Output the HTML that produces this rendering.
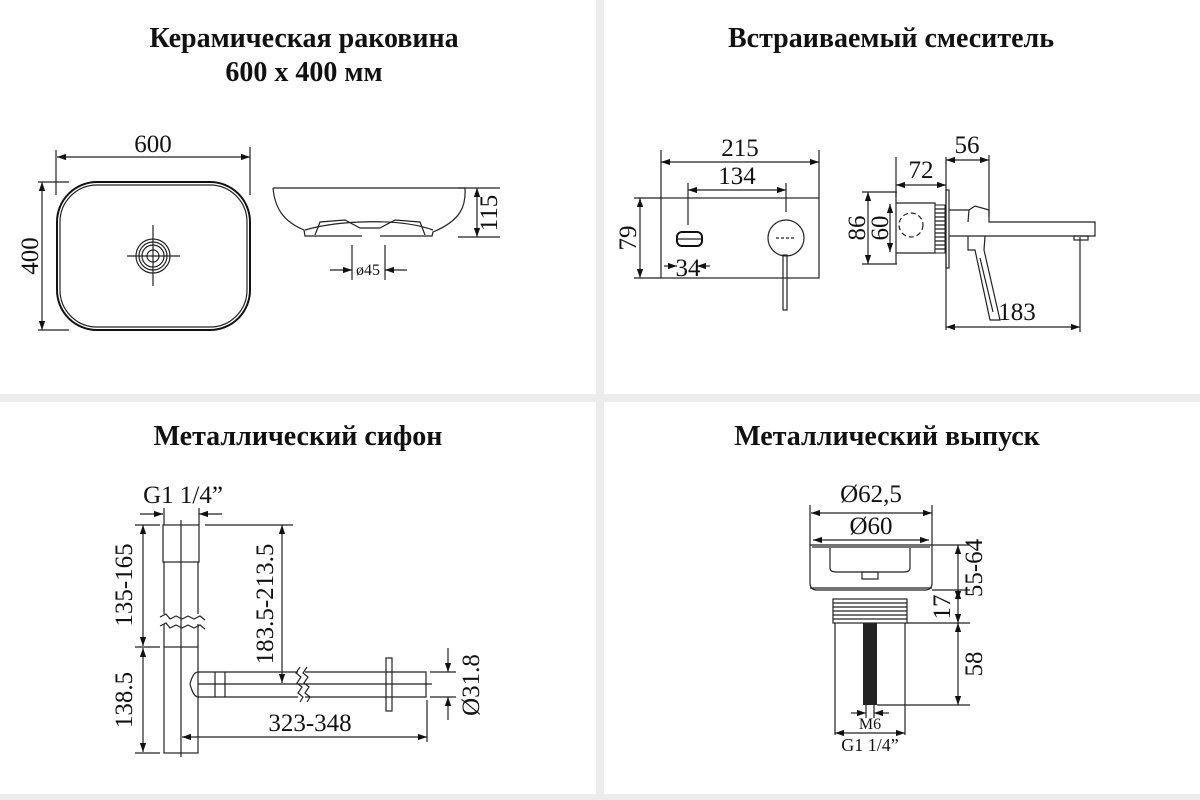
<!DOCTYPE html>
<html><head><meta charset="utf-8"><style>
html,body{margin:0;padding:0;background:#fff}
svg{display:block}
.t{font-family:"Liberation Serif","Noto Serif CJK SC",serif;font-weight:bold;font-size:28px;fill:#111;text-anchor:middle}
.d{font-family:"Liberation Serif",serif;font-size:25px;fill:#111;text-anchor:middle}
.s{font-family:"Liberation Serif",serif;font-size:16px;fill:#111;text-anchor:middle}
.l{stroke:#222;stroke-width:1.2;fill:none}
.k{stroke:#111;stroke-width:2;fill:none}
</style></head><body>
<svg width="1200" height="800" viewBox="0 0 1200 800" xmlns="http://www.w3.org/2000/svg">
<defs>
<marker id="a" viewBox="0 0 10 10" refX="10" refY="5" markerWidth="9" markerHeight="9" orient="auto-start-reverse" markerUnits="userSpaceOnUse"><path d="M0,1.5 L10,5 L0,8.5z" fill="#111"/></marker>
</defs>
<rect width="1200" height="800" fill="#fff"/>
<rect x="596" y="0" width="8" height="800" fill="#ececec"/>
<rect x="0" y="394" width="1200" height="8" fill="#ececec"/>
<rect x="0" y="794" width="1200" height="6" fill="#ececec"/>

<text class="t" x="304" y="47">Керамическая раковина</text>
<text class="t" x="304" y="81">600 x 400 мм</text>
<text class="t" x="891" y="47">Встраиваемый смеситель</text>
<text class="t" x="298" y="445">Металлический сифон</text>
<text class="t" x="887" y="445">Металлический выпуск</text>

<!-- SINK top view -->
<rect x="57" y="182" width="193" height="148" rx="40" class="k"/>
<rect x="60" y="185" width="187" height="142" rx="37" class="l"/>
<line x1="56" y1="150" x2="56" y2="195" class="l"/>
<line x1="250" y1="147" x2="250" y2="195" class="l"/>
<line x1="57" y1="157" x2="250" y2="157" class="l" marker-start="url(#a)" marker-end="url(#a)"/>
<text class="d" x="153" y="152">600</text>
<line x1="38" y1="182" x2="69" y2="182" class="l"/>
<line x1="38" y1="330" x2="69" y2="330" class="l"/>
<line x1="42" y1="182" x2="42" y2="330" class="l" marker-start="url(#a)" marker-end="url(#a)"/>
<text class="d" transform="translate(38,256) rotate(-90)">400</text>
<circle cx="153" cy="256" r="17" class="l"/><circle cx="153" cy="256" r="14" class="l"/>
<circle cx="153" cy="256" r="11" class="l"/><circle cx="153" cy="256" r="6" class="l"/>
<line x1="127" y1="256" x2="180" y2="256" class="l"/><line x1="153" y1="225" x2="153" y2="286" class="l"/>
<path d="M273,188 L465,188 C466,205 462,220 433,232 L432,236 L380,236 M273,188 C275,210 285,222 304,230 L305,236 L362,236" class="l"/>
<path d="M305,230 C340,220 400,218 433,230" class="l"/>
<path d="M315,235 L320,222 L345,220 L360,228 L380,228 L395,220 L420,222 L425,235" class="l"/>
<line x1="458" y1="188" x2="500" y2="188" class="l"/>
<line x1="458" y1="237" x2="500" y2="237" class="l"/>
<line x1="477" y1="188" x2="477" y2="237" class="l" marker-start="url(#a)" marker-end="url(#a)"/>
<text class="d" transform="translate(497,213) rotate(-90)">115</text>
<line x1="352" y1="245" x2="352" y2="280" class="l"/><line x1="385" y1="245" x2="385" y2="280" class="l"/>
<line x1="330" y1="270" x2="352" y2="270" class="l" marker-end="url(#a)"/>
<line x1="407" y1="270" x2="385" y2="270" class="l" marker-end="url(#a)"/>
<text class="s" x="368" y="275">ø45</text>

<!-- FAUCET front -->
<rect x="661" y="198" width="158" height="80" class="l" stroke-width="1.5"/>
<line x1="661" y1="150" x2="661" y2="198" class="l"/><line x1="819" y1="150" x2="819" y2="198" class="l"/>
<line x1="661" y1="162" x2="819" y2="162" class="l" marker-start="url(#a)" marker-end="url(#a)"/>
<text class="d" x="740" y="156">215</text>
<line x1="688" y1="183" x2="688" y2="225" class="l"/><line x1="786" y1="183" x2="786" y2="212" class="l"/>
<line x1="688" y1="190" x2="786" y2="190" class="l" marker-start="url(#a)" marker-end="url(#a)"/>
<text class="d" x="737" y="184">134</text>
<line x1="634" y1="198" x2="661" y2="198" class="l"/><line x1="634" y1="278" x2="661" y2="278" class="l"/>
<line x1="640" y1="198" x2="640" y2="278" class="l" marker-start="url(#a)" marker-end="url(#a)"/>
<text class="d" transform="translate(636,238) rotate(-90)">79</text>
<rect x="677" y="232" width="25" height="14" rx="5" class="k"/>
<line x1="677" y1="239" x2="702" y2="239" class="l"/>
<line x1="664" y1="266" x2="677" y2="266" class="l" marker-end="url(#a)"/>
<line x1="710" y1="266" x2="697" y2="266" class="l" marker-end="url(#a)"/>
<text class="d" x="688" y="276">34</text>
<circle cx="786" cy="238" r="18" class="l" stroke-width="1.5"/>
<line x1="776" y1="238" x2="796" y2="238" class="l" stroke-dasharray="3,2"/>
<rect x="783" y="255" width="4" height="55" class="l"/>
<!-- FAUCET side -->
<line x1="896" y1="157" x2="896" y2="197" class="l"/>
<line x1="946" y1="157" x2="946" y2="330" class="l"/>
<line x1="896" y1="185" x2="946" y2="185" class="l" marker-start="url(#a)" marker-end="url(#a)"/>
<text class="d" x="921" y="178">72</text>
<line x1="989" y1="155" x2="989" y2="217" class="l"/>
<line x1="946" y1="160" x2="989" y2="160" class="l" marker-start="url(#a)" marker-end="url(#a)"/>
<text class="d" x="967" y="153">56</text>
<line x1="862" y1="192" x2="897" y2="192" class="l"/><line x1="862" y1="264" x2="897" y2="264" class="l"/>
<line x1="868" y1="192" x2="868" y2="264" class="l" marker-start="url(#a)" marker-end="url(#a)"/>
<line x1="890" y1="204" x2="890" y2="252" class="l" marker-start="url(#a)" marker-end="url(#a)"/>
<text class="d" transform="translate(865,228) rotate(-90)">86</text>
<text class="d" transform="translate(888,228) rotate(-90)">60</text>
<path d="M896,192 L896,264 M896,203 L935,203 L935,253 L896,253" class="l"/>
<circle cx="911" cy="225" r="12" class="l" stroke-dasharray="5,3"/>
<rect x="935" y="205" width="10" height="48" fill="#fff" stroke="#222"/>
<path d="M935,209h10M935,213h10M935,217h10M935,221h10M935,225h10M935,229h10M935,233h10M935,237h10M935,241h10M935,245h10M935,249h10" class="l"/>
<rect x="946" y="190" width="3" height="78" class="l"/>
<path d="M949,210 L969,210 L975,206 L989,210 L989,222 L1095,222 L1095,236 L949,236" class="l"/>
<path d="M969,210 L968,222" class="l"/>
<rect x="1074" y="236" width="14" height="4" class="l"/>
<line x1="1080" y1="237" x2="1080" y2="332" class="l"/>
<path d="M968,236 L968,250 L975,250 L990,320 L1000,320 L984,250 L985,236" class="l"/>
<path d="M980,258 L993,312" class="l"/>
<line x1="946" y1="327" x2="1080" y2="327" class="l" marker-start="url(#a)" marker-end="url(#a)"/>
<text class="d" x="1017" y="320">183</text>

<!-- SIPHON -->
<text class="d" x="183" y="503">G1 1/4”</text>
<line x1="164" y1="508" x2="164" y2="525" class="l"/><line x1="199" y1="508" x2="199" y2="525" class="l"/>
<line x1="140" y1="514" x2="163" y2="514" class="l" marker-end="url(#a)"/>
<line x1="222" y1="514" x2="199" y2="514" class="l" marker-end="url(#a)"/>
<rect x="163" y="525" width="36" height="37" class="l"/>
<path d="M164,562 L164,614 M198,562 L198,614 M164,624 L164,647 M198,624 L198,647" class="l"/>
<path d="M160,617 l6,-3 l4,5 l6,-3 l6,3 l6,-3 l6,3 l6,-3 l5,4 M160,626 l6,-3 l4,5 l6,-3 l6,3 l6,-3 l6,3 l6,-3 l5,4" class="l"/>
<rect x="164" y="647" width="34" height="106" class="l"/>
<line x1="181" y1="520" x2="181" y2="757" class="l" stroke-width="0.8"/>
<line x1="135" y1="525" x2="160" y2="525" class="l"/>
<line x1="135" y1="647" x2="160" y2="647" class="l"/>
<line x1="135" y1="753" x2="160" y2="753" class="l"/>
<line x1="143" y1="525" x2="143" y2="646" class="l" marker-start="url(#a)" marker-end="url(#a)"/>
<line x1="143" y1="648" x2="143" y2="752" class="l" marker-start="url(#a)" marker-end="url(#a)"/>
<text class="d" transform="translate(132,585) rotate(-90)">135-165</text>
<text class="d" transform="translate(132,700) rotate(-90)">138.5</text>
<line x1="205" y1="525" x2="293" y2="525" class="l"/>
<line x1="282" y1="525" x2="282" y2="683" class="l" marker-start="url(#a)" marker-end="url(#a)"/>
<text class="d" transform="translate(273,604) rotate(-90)">183.5-213.5</text>
<path d="M198,672 L225,672 L225,697 L198,697 M190,684 C192,676 195,672 198,672 M190,684 C192,692 195,697 198,697 M215,672 L215,697" class="l"/>
<path d="M225,672 L298,672 M225,697 L298,697 M305,672 L426,672 L426,697 L305,697" class="l"/>
<path d="M300,667 l-4,6 l5,4 l-4,6 l5,4 l-4,6 l5,4 l-3,5 M307,667 l-4,6 l5,4 l-4,6 l5,4 l-4,6 l5,4 l-3,5" class="l"/>
<line x1="198" y1="684" x2="432" y2="684" class="l" stroke-width="0.8"/>
<rect x="386" y="658" width="6" height="53" class="l" fill="#fff"/>
<line x1="430" y1="672" x2="456" y2="672" class="l"/><line x1="430" y1="697" x2="456" y2="697" class="l"/>
<line x1="448" y1="648" x2="448" y2="672" class="l" marker-end="url(#a)"/>
<line x1="448" y1="720" x2="448" y2="697" class="l" marker-end="url(#a)"/>
<text class="d" transform="translate(479,685) rotate(-90)">Ø31.8</text>
<line x1="427" y1="700" x2="427" y2="742" class="l"/>
<line x1="182" y1="737" x2="427" y2="737" class="l" marker-start="url(#a)" marker-end="url(#a)"/>
<text class="d" x="310" y="731">323-348</text>

<!-- DRAIN -->
<line x1="810" y1="505" x2="810" y2="545" class="l"/><line x1="932" y1="505" x2="932" y2="545" class="l"/>
<line x1="811" y1="513" x2="932" y2="513" class="l" marker-start="url(#a)" marker-end="url(#a)"/>
<text class="d" x="871" y="502">Ø62,5</text>
<line x1="813" y1="540" x2="929" y2="540" class="l" marker-start="url(#a)" marker-end="url(#a)"/>
<text class="d" x="871" y="534">Ø60</text>
<path d="M810,545 L932,545 L932,583 Q932,590 925,590 L817,590 Q810,590 810,583 Z" class="l"/>
<line x1="812" y1="547" x2="930" y2="547" class="l"/>
<path d="M830,548 L830,568 Q830,572 836,572 L904,572 Q910,572 910,568 L910,548" class="l"/>
<rect x="862" y="572" width="16" height="7" class="l"/>
<line x1="810" y1="588" x2="932" y2="588" class="l"/>
<rect x="833" y="599" width="74" height="24" class="l"/>
<path d="M833,603h74M833,607h74M833,611h74M833,615h74M833,619h74" class="l"/>
<rect x="863" y="623" width="14" height="82" fill="#222"/>
<path d="M835,623 L835,735 M905,623 L905,735" class="l"/>
<line x1="866" y1="705" x2="866" y2="718" class="l"/><line x1="874" y1="705" x2="874" y2="718" class="l"/>
<line x1="932" y1="545" x2="970" y2="545" class="l"/>
<line x1="932" y1="590" x2="970" y2="590" class="l"/>
<line x1="907" y1="623" x2="970" y2="623" class="l"/>
<line x1="877" y1="705" x2="970" y2="705" class="l"/>
<line x1="958" y1="545" x2="958" y2="600" class="l" marker-start="url(#a)" marker-end="url(#a)"/>
<line x1="958" y1="590" x2="958" y2="623" class="l" marker-start="url(#a)" marker-end="url(#a)"/>
<line x1="958" y1="623" x2="958" y2="705" class="l" marker-start="url(#a)" marker-end="url(#a)"/>
<text class="d" transform="translate(982,568) rotate(-90)">55-64</text>
<text class="d" transform="translate(950,607) rotate(-90)">17</text>
<text class="d" transform="translate(982,664) rotate(-90)">58</text>
<line x1="851" y1="713" x2="866" y2="713" class="l" marker-end="url(#a)"/>
<line x1="889" y1="713" x2="874" y2="713" class="l" marker-end="url(#a)"/>
<text class="s" x="870" y="729">M6</text>
<line x1="835" y1="733" x2="905" y2="733" class="l" marker-start="url(#a)" marker-end="url(#a)"/>
<text class="s" x="870" y="751" style="font-size:18px">G1 1/4”</text>
</svg>
</body></html>
